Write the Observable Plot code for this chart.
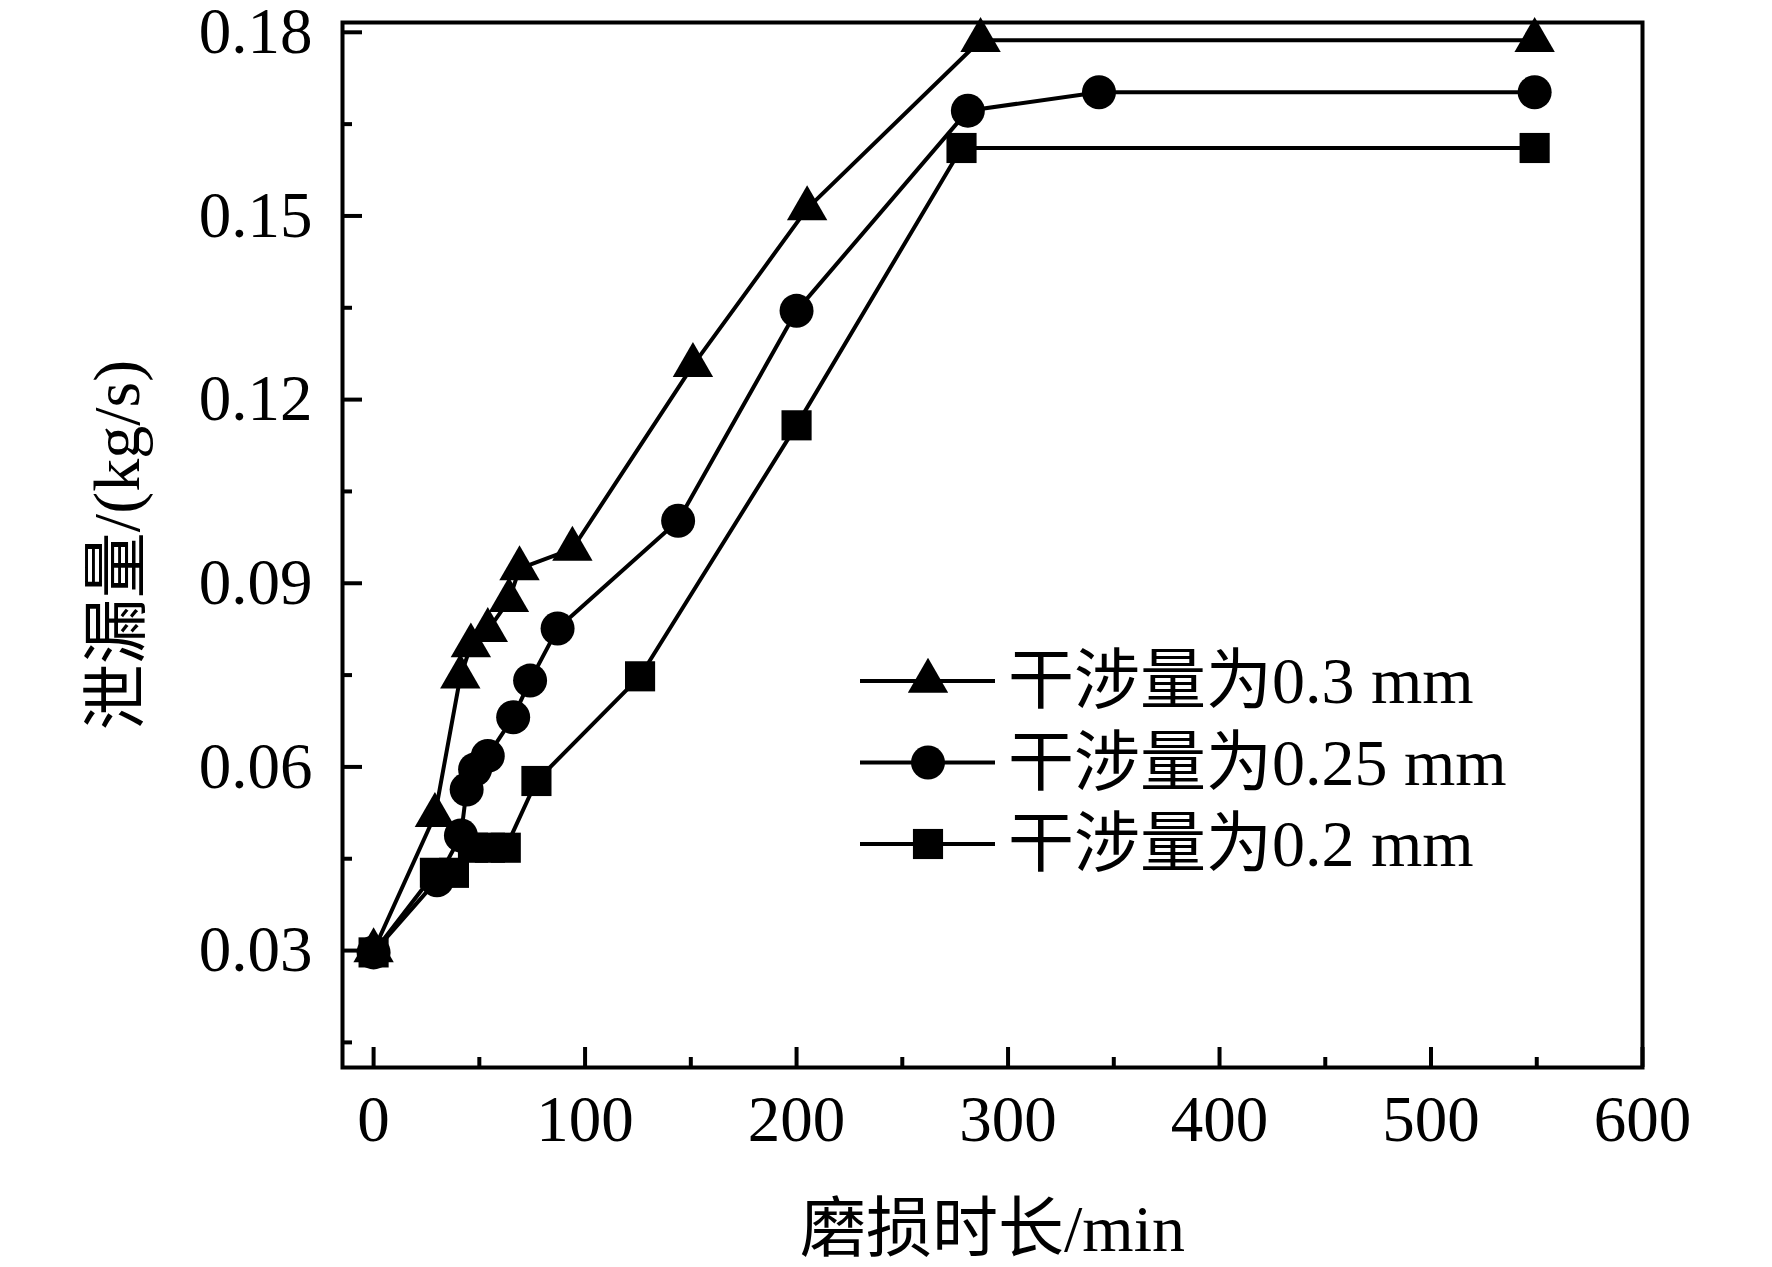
<!DOCTYPE html>
<html>
<head>
<meta charset="utf-8">
<script src="https://cdn.jsdelivr.net/npm/d3@7"></script>
<script src="https://cdn.jsdelivr.net/npm/@observablehq/plot@0.6"></script>
<style>
  html, body { margin: 0; padding: 0; background: #fff; }
  #chart svg { display: block; overflow: visible; }
</style>
</head>
<body>
<div id="chart"></div>
<script>
// ---- data ----
const seriesLabels = ["干涉量为0.3 mm", "干涉量为0.25 mm", "干涉量为0.2 mm"];
const seriesSymbols = ["triangle", "circle", "square"];

const time03 = [0, 29, 41, 46, 54, 64, 69, 94, 151, 205, 287, 549];
const leak03 = [0.030, 0.0521, 0.0747, 0.0798, 0.0823, 0.0872, 0.0924, 0.0956, 0.1256, 0.1512, 0.1787, 0.1787];

const time025 = [0, 30, 41.3, 44, 48, 54, 66, 74, 87, 144, 200, 281, 343, 549];
const leak025 = [0.0297, 0.0415, 0.0488, 0.0563, 0.0596, 0.0618, 0.0681, 0.0741, 0.0826, 0.1002, 0.1345, 0.1672, 0.1702, 0.1702];

const time02 = [0, 29, 38, 47, 55, 62.5, 77, 126, 200, 278, 549];
const leak02 = [0.0297, 0.0427, 0.0427, 0.0468, 0.0468, 0.0468, 0.0577, 0.0748, 0.1158, 0.1611, 0.1611];

const xMajorTicks = [0, 100, 200, 300, 400, 500, 600];
const xMinorTicks = [50, 150, 250, 350, 450, 550];
const yMajorTicks = [0.03, 0.06, 0.09, 0.12, 0.15, 0.18];
const yMinorTicks = [0.015, 0.045, 0.075, 0.105, 0.135, 0.165];

const xTitle = "磨损时长/min";
const yTitle = "泄漏量/(kg/s)";

// ---- build ----
const toRows = (t, v, s) => t.map((d, i) => ({time: d, leak: v[i], series: s}));
const rows03 = toRows(time03, leak03, seriesLabels[0]);
const rows025 = toRows(time025, leak025, seriesLabels[1]);
const rows02 = toRows(time02, leak02, seriesLabels[2]);

const FONT = "'Liberation Serif', 'Times New Roman', 'Noto Sans CJK SC', serif";
const radius = {triangle: 15, circle: 17, square: 17};
const lineW = 4;

const chart = Plot.plot({
  width: 1772,
  height: 1267,
  marginLeft: 342,
  marginRight: 130,
  marginTop: 22,
  marginBottom: 200,
  style: {fontFamily: FONT, background: "white", color: "black", overflow: "visible"},
  x: {domain: [-14.7, 600]},
  y: {domain: [0.0109, 0.1816]},
  marks: [
    // ticks (inward)
    Plot.axisX(xMajorTicks, {tickSize: -20, strokeWidth: 4, tickFormat: () => "", label: null}),
    Plot.axisX(xMinorTicks, {tickSize: -10, strokeWidth: 4, tickFormat: () => "", label: null}),
    Plot.axisX(xMajorTicks, {tickSize: 0, tickPadding: 27, fontSize: 65, tickFormat: d3.format("d"), label: null}),
    Plot.axisY(yMajorTicks, {tickSize: -20, strokeWidth: 4, tickFormat: () => "", label: null}),
    Plot.axisY(yMinorTicks, {tickSize: -10, strokeWidth: 4, tickFormat: () => "", label: null}),
    Plot.axisY(yMajorTicks, {tickSize: 0, tickPadding: 30, fontSize: 65, tickFormat: d3.format(".2f"), label: null}),
    Plot.frame({stroke: "black", strokeWidth: 4}),
    // lines
    Plot.line(rows03, {x: "time", y: "leak", stroke: "black", strokeWidth: lineW}),
    Plot.line(rows025, {x: "time", y: "leak", stroke: "black", strokeWidth: lineW}),
    Plot.line(rows02, {x: "time", y: "leak", stroke: "black", strokeWidth: lineW}),
    // markers
    Plot.dot(rows03, {x: "time", y: "leak", symbol: seriesSymbols[0], r: radius.triangle, fill: "black", stroke: "none"}),
    Plot.dot(rows025, {x: "time", y: "leak", symbol: seriesSymbols[1], r: radius.circle, fill: "black", stroke: "none"}),
    Plot.dot(rows02, {x: "time", y: "leak", symbol: seriesSymbols[2], r: radius.square, fill: "black", stroke: "none"}),
    // axis titles
    Plot.text([xTitle], {text: d => d, frameAnchor: "bottom", dy: 162, lineAnchor: "middle", textAnchor: "middle", fontSize: 66, fill: "black"}),
    Plot.text([yTitle], {text: d => d, frameAnchor: "left", dx: -225, rotate: -90, lineAnchor: "middle", textAnchor: "middle", fontSize: 66, fill: "black"})
  ]
});

document.getElementById("chart").appendChild(chart);

// ---- legend (inside the SVG) ----
const legendStyle = {lineX1: 860, lineX2: 995, markerX: 928, textX: 1008, rowY0: 681, rowGap: 81.5, fontSize: 66};
const symbolMap = {triangle: d3.symbolTriangle, circle: d3.symbolCircle, square: d3.symbolSquare};
const svg = d3.select(chart);
const lg = svg.append("g").attr("class", "legend");
seriesLabels.forEach((label, i) => {
  const y = legendStyle.rowY0 + i * legendStyle.rowGap;
  const g = lg.append("g");
  g.append("line")
    .attr("x1", legendStyle.lineX1).attr("x2", legendStyle.lineX2)
    .attr("y1", y).attr("y2", y)
    .attr("stroke", "black").attr("stroke-width", lineW);
  const sym = seriesSymbols[i];
  const r = radius[sym];
  g.append("path")
    .attr("d", d3.symbol(symbolMap[sym], Math.PI * r * r)())
    .attr("transform", `translate(${legendStyle.markerX},${y})`)
    .attr("fill", "black");
  g.append("text")
    .attr("x", legendStyle.textX).attr("y", y)
    .attr("dy", "0.34em")
    .attr("text-anchor", "start")
    .attr("font-size", legendStyle.fontSize)
    .attr("font-family", FONT)
    .attr("fill", "black")
    .text(label);
});
</script>
</body>
</html>
